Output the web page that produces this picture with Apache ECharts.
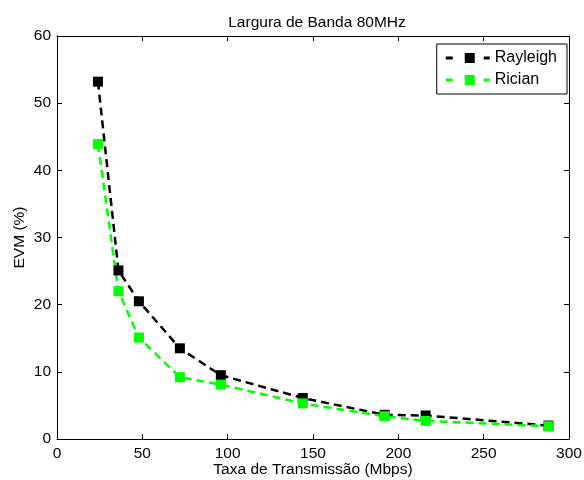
<!DOCTYPE html>
<head>
    <meta charset="utf-8" />
    <style>
        html, body { margin: 0; padding: 0; background: #fff; }
        #evmChart { width: 584px; height: 480px; }
    </style>
</head>
<script src="https://cdn.jsdelivr.net/npm/echarts@6/dist/echarts.min.js"></script>
<body>
    <div id="evmChart"></div>
    <script type="text/javascript">
        // taxas de transmissao (Mbps)
        var taxas = [24, 36, 48, 72, 96, 144, 192, 216, 288];
        // EVM (%) por canal
        var rayleigh = [53.2, 25.1, 20.5, 13.5, 9.5, 6.1, 3.6, 3.5, 2.0];
        var rician = [43.9, 22.0, 15.1, 9.2, 8.1, 5.3, 3.4, 2.7, 1.9];
        var nomes = ['Rayleigh', 'Rician'];
        var cores = ['#000000', '#00ff00'];

        var fonte = 'Liberation Sans, Arial, sans-serif';
        var tam = 15.5;
        // icone da legenda: traco - quadrado - traco
        var iconeLegenda = 'path://M0,3.5h7v3h-7z M19,0h10v10h-10z M38,3.5h6v3h-6z';

        function pares(xs, ys) {
            var out = [];
            for (var i = 0; i < xs.length; i++) {
                out.push([xs[i], ys[i]]);
            }
            return out;
        }

        function serie(nome, valores, cor) {
            return {
                name: nome,
                type: 'line',
                data: pares(taxas, valores),
                symbol: 'rect',
                symbolSize: 10,
                itemStyle: { color: cor },
                lineStyle: { color: cor, width: 2.5, type: [8, 5] },
                animation: false
            };
        }

        var eixoBase = {
            type: 'value',
            axisLine: { show: true, onZero: false, lineStyle: { color: '#000', width: 1 } },
            axisTick: { show: true, inside: true, length: 5, lineStyle: { color: '#000' } },
            splitLine: { show: false },
            axisLabel: { color: '#000', fontSize: tam, fontFamily: fonte }
        };

        var options = {
            backgroundColor: '#fff',
            title: {
                text: 'Largura de Banda 80MHz',
                left: 312,
                textAlign: 'center',
                top: 10,
                textStyle: { color: '#000', fontSize: tam, fontWeight: 'normal', fontFamily: fonte }
            },
            legend: {
                data: nomes,
                orient: 'vertical',
                right: 17,
                top: 44,
                padding: [6, 10, 6, 9],
                itemGap: 6,
                itemWidth: 44,
                itemHeight: 10,
                icon: iconeLegenda,
                borderColor: '#000',
                borderWidth: 1,
                borderRadius: 0,
                backgroundColor: '#fff',
                textStyle: { color: '#000', fontSize: 16, fontFamily: fonte }
            },
            grid: { left: 57, right: 15, top: 36, bottom: 41, outerBoundsMode: 'none', containLabel: false },
            xAxis: [
                Object.assign({}, eixoBase, {
                    min: 0, max: 300, interval: 50,
                    name: 'Taxa de Transmissão (Mbps)',
                    nameLocation: 'middle',
                    nameGap: 23,
                    nameMoveOverlap: false,
                    nameTextStyle: { color: '#000', fontSize: tam, fontFamily: fonte },
                    axisLabel: { color: '#000', fontSize: tam, fontFamily: fonte, margin: 7 }
                }),
                Object.assign({}, eixoBase, {
                    min: 0, max: 300, interval: 50, position: 'top',
                    axisLabel: { show: false }
                })
            ],
            yAxis: [
                Object.assign({}, eixoBase, {
                    min: 0, max: 60, interval: 10,
                    name: 'EVM (%)',
                    nameLocation: 'middle',
                    nameGap: 29,
                    nameMoveOverlap: false,
                    nameTextStyle: { color: '#000', fontSize: tam, fontFamily: fonte },
                    axisLabel: { color: '#000', fontSize: tam, fontFamily: fonte, margin: 6 }
                }),
                Object.assign({}, eixoBase, {
                    min: 0, max: 60, interval: 10, position: 'right',
                    axisLabel: { show: false }
                })
            ],
            series: [
                serie(nomes[0], rayleigh, cores[0]),
                serie(nomes[1], rician, cores[1])
            ]
        };

        var grafico = echarts.init(document.getElementById('evmChart'));
        grafico.setOption(options);
    </script>
</body>
